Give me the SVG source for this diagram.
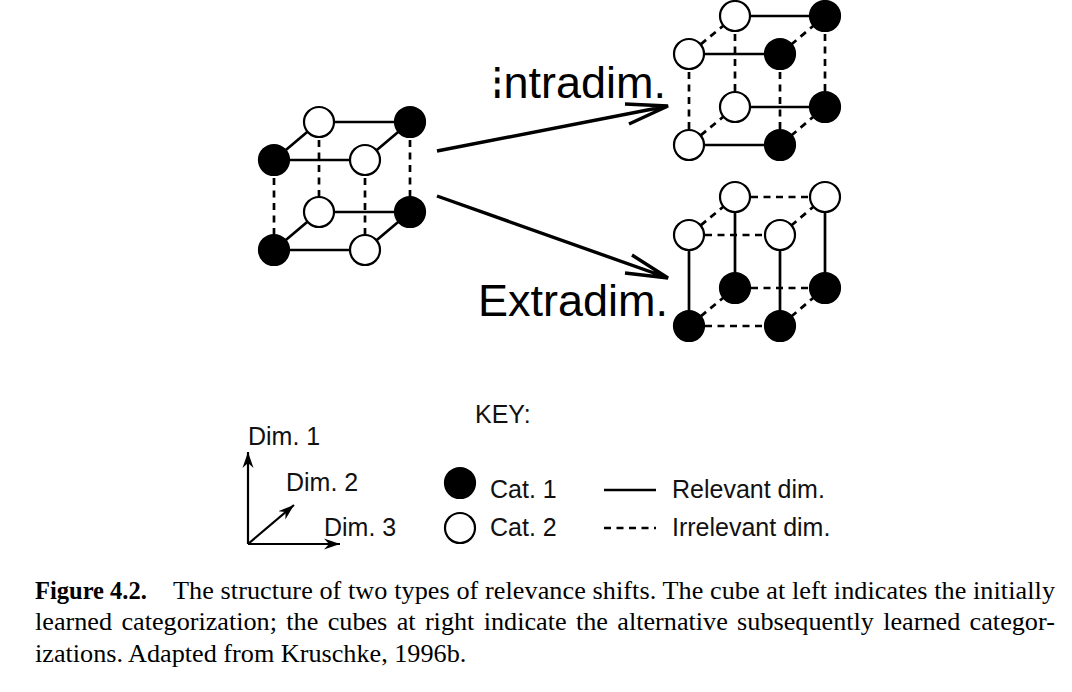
<svg xmlns="http://www.w3.org/2000/svg" width="1072" height="692" viewBox="0 0 1072 692">
<style>
text{font-family:"Liberation Sans",Arial,sans-serif;fill:#000}
.big{font-size:45px}
.key{font-size:25px;fill:#111}
.cap{font-family:"Liberation Serif","Times New Roman",serif;font-size:26.200px}
.s{stroke:#000;stroke-width:2.7;fill:none}
.d{stroke:#000;stroke-width:2.7;fill:none;stroke-dasharray:7 5.500}
.ar{stroke:#000;stroke-width:3.4;fill:none}
.ax{stroke:#000;stroke-width:2.2;fill:none}
.b{fill:#000;stroke:#000;stroke-width:2.2}
.w{fill:#fff;stroke:#000;stroke-width:2.2}
</style>
<defs>
<marker id="axh" markerUnits="userSpaceOnUse" markerWidth="20" markerHeight="14" refX="16" refY="6" orient="auto"><path d="M0 0.500L16 6L0 11.500L5 6Z" fill="#000"/></marker>
</defs>
<g id="connectors">
<g id="cube-left-edges">
<path class="s" d="M319 122H410M274 160H365M319 212H410M274 250H365M319 122L274 160M410 122L365 160M319 212L274 250M410 212L365 250"/>
<path class="d" d="M274 178V235M319 140V197M365 178V235M410 140V197"/>
</g>
<g id="cube-intra-edges">
<path class="s" d="M735 16H825M689 54H780M735 107H825M689 145H780"/>
<path class="d" d="M735 16L689 54M825 16L780 54M735 107L689 145M825 107L780 145M689 72V129M735 34V91M780 72V129M825 34V91"/>
</g>
<g id="cube-extra-edges">
<path class="s" d="M689 235V326M735 197V288M780 235V326M825 197V288"/>
<path class="d" d="M751 197H810M705 235H765M751 288H810M705 326H765M735 197L689 235M825 197L780 235M735 288L689 326M825 288L780 326"/>
</g>
<g id="shift-arrows">
<path class="ar" d="M437 151L668 106M625 104L668 106L629 124"/>
<path class="ar" d="M437 196L668 278M632 255L668 278L625 273"/>
</g>
<g id="axes">
<path class="ax" marker-end="url(#axh)" d="M248 544V452"/>
<path class="ax" marker-end="url(#axh)" d="M248 544L294 505"/>
<path class="ax" marker-end="url(#axh)" d="M248 544H340"/>
</g>
<g id="legend-lines">
<path class="s" d="M604 490H656"/>
<path class="s" stroke-dasharray="7 5.500" d="M604 528H656"/>
</g>
</g>
<g id="cube-left">
<circle id="l1" class="w" cx="319" cy="122" r="15"/><circle id="l2" class="b" cx="410" cy="122" r="15"/>
<circle id="l3" class="b" cx="274" cy="160" r="15"/><circle id="l4" class="w" cx="365" cy="160" r="15"/>
<circle id="l5" class="w" cx="319" cy="212" r="15"/><circle id="l6" class="b" cx="410" cy="212" r="15"/>
<circle id="l7" class="b" cx="274" cy="250" r="15"/><circle id="l8" class="w" cx="365" cy="250" r="15"/>
</g>
<g id="cube-intra">
<circle id="i1" class="w" cx="735" cy="16" r="15"/><circle id="i2" class="b" cx="825" cy="16" r="15"/>
<circle id="i3" class="w" cx="689" cy="54" r="15"/><circle id="i4" class="b" cx="780" cy="54" r="15"/>
<circle id="i5" class="w" cx="735" cy="107" r="15"/><circle id="i6" class="b" cx="825" cy="107" r="15"/>
<circle id="i7" class="w" cx="689" cy="145" r="15"/><circle id="i8" class="b" cx="780" cy="145" r="15"/>
</g>
<g id="cube-extra">
<circle id="e1" class="w" cx="735" cy="197" r="15"/><circle id="e2" class="w" cx="825" cy="197" r="15"/>
<circle id="e3" class="w" cx="689" cy="235" r="15"/><circle id="e4" class="w" cx="780" cy="235" r="15"/>
<circle id="e5" class="b" cx="735" cy="288" r="15"/><circle id="e6" class="b" cx="825" cy="288" r="15"/>
<circle id="e7" class="b" cx="689" cy="326" r="15"/><circle id="e8" class="b" cx="780" cy="326" r="15"/>
</g>
<g id="label-intra">
<text class="big" x="491" y="98">Intradim.</text>
<path d="M490 74.500H504M490 86.500H504" stroke="#fff" stroke-width="6" fill="none"/>
</g>
<g id="label-extra"><text class="big" x="478" y="316">Extradim.</text></g>
<g id="axis-labels">
<text class="key" x="248" y="445">Dim. 1</text>
<text class="key" x="286" y="491">Dim. 2</text>
<text class="key" x="324" y="536">Dim. 3</text>
</g>
<g id="key">
<text class="key" x="475" y="423">KEY:</text>
<circle id="k1" class="b" cx="460" cy="483" r="15"/>
<circle id="k2" class="w" cx="460" cy="528" r="15"/>
<text class="key" x="490" y="498">Cat. 1</text>
<text class="key" x="490" y="536">Cat. 2</text>
<text class="key" x="672" y="498">Relevant dim.</text>
<text class="key" x="672" y="536">Irrelevant dim.</text>
</g>
<g id="caption">
<text class="cap" x="35" y="599" font-weight="bold" style="font-size:24.500px">Figure 4.2.</text>
<text class="cap" x="173" y="599" textLength="882">The structure of two types of relevance shifts. The cube at left indicates the initially</text>
<text class="cap" x="35" y="630" word-spacing="2.800">learned categorization; the cubes at right indicate the alternative subsequently learned categor-</text>
<text class="cap" x="35" y="662">izations. Adapted from Kruschke, 1996b.</text>
</g>
</svg>
